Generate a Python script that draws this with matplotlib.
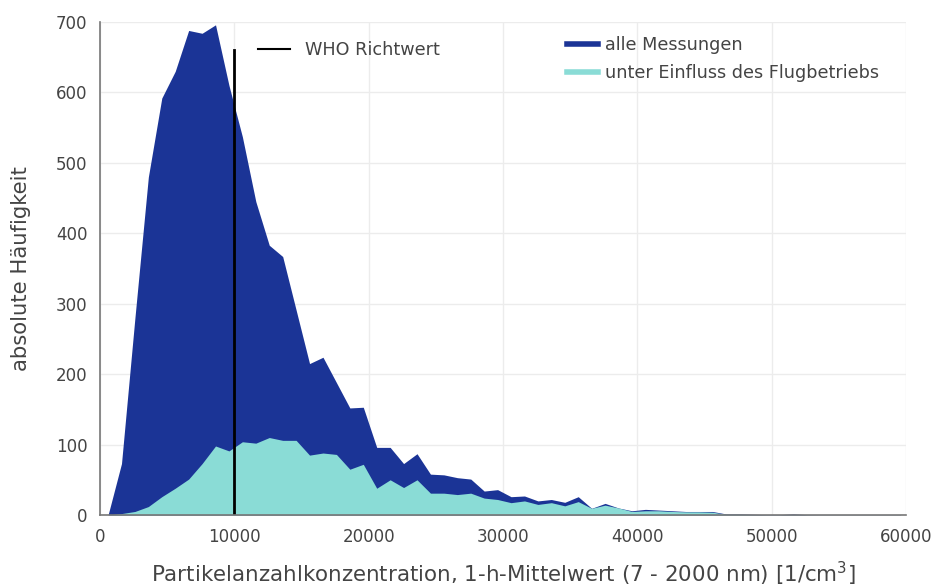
import numpy as np
import matplotlib.pyplot as plt
from matplotlib.lines import Line2D

# bin centres of the histogram [1/cm3]
x_bins = np.arange(600, 60000, 1000)

# absolute frequency, all measurements
alle = [0, 73, 280, 480, 592, 630, 688, 684, 696, 610,
        537, 445, 383, 367, 291, 215, 224, 188, 152, 153,
        96, 96, 73, 87, 58, 57, 53, 51, 34, 36,
        26, 27, 20, 22, 18, 26, 9.5, 16.5, 10, 6,
        8, 7, 6, 5, 5, 5, 1.5, 1.5, 1, 0.5,
        0.5, 1.5, 0.5, 0.3, 0.3, 0.3, 0.3, 0.3, 0.3, 0.3]

# absolute frequency, influenced by airport operations
flug = [0, 2, 5, 12, 26, 38, 51, 73, 98, 91,
        104, 102, 110, 106, 106, 85, 88, 86, 65, 72,
        38, 50, 39, 50, 31, 31, 29, 31, 24, 22,
        17.5, 20, 15, 17.5, 13, 19, 9.5, 14, 10, 5,
        6, 6, 5, 4.5, 4.5, 4, 1, 1, 0.5, 0.3,
        0.3, 0.5, 0.3, 0.2, 0.2, 0.2, 0.2, 0.2, 0.2, 0.2]

who_x = 10000
who_top = 660

dark = '#1b3496'
light = '#8adcd6'
txt = '#444444'

fig = plt.figure(figsize=(9.31, 5.88), dpi=100)
ax = fig.add_axes([100 / 931, 73 / 588, 806 / 931, 493 / 588])

ax.fill_between(x_bins, 0, alle, color=dark, linewidth=0)
ax.fill_between(x_bins, 0, flug, color=light, linewidth=0)
ax.plot([who_x, who_x], [0, who_top], color='black', lw=2)

ax.set_xlim(0, 60000)
ax.set_ylim(0, 700)
ax.set_xticks(np.arange(0, 60001, 10000))
ax.set_yticks(np.arange(0, 701, 100))
ax.grid(True, color='#ececec', lw=1)
ax.set_axisbelow(True)

for s in ['top', 'right']:
    ax.spines[s].set_visible(False)
for s in ['left', 'bottom']:
    ax.spines[s].set_color('#777777')
    ax.spines[s].set_linewidth(1.2)
    ax.spines[s].set_zorder(5)

ax.tick_params(length=0, labelsize=12, labelcolor=txt, pad=9)
ax.set_xlabel('Partikelanzahlkonzentration, 1-h-Mittelwert (7 - 2000 nm) [1/cm$^3$]',
              fontsize=15.4, color=txt, labelpad=10)
ax.set_ylabel('absolute Häufigkeit', fontsize=15.2, color=txt, labelpad=18)

h_who = [Line2D([], [], color='black', lw=1.5)]
leg1 = ax.legend(h_who, ['WHO Richtwert'], loc='upper left',
                 bbox_to_anchor=(0.196, 0.962), frameon=False, fontsize=12.7,
                 handlelength=1.8, handletextpad=0.85, borderpad=0,
                 borderaxespad=0, labelcolor=txt)
ax.add_artist(leg1)

h_fill = [Line2D([], [], color=dark, lw=4), Line2D([], [], color=light, lw=4)]
ax.legend(h_fill, ['alle Messungen', 'unter Einfluss des Flugbetriebs'],
          loc='upper left', bbox_to_anchor=(0.579, 0.972), frameon=False,
          fontsize=12.7, handlelength=1.8, handletextpad=0.35, borderpad=0,
          borderaxespad=0, labelspacing=0.6, labelcolor=txt)

fig.savefig('out.png', dpi=100)
